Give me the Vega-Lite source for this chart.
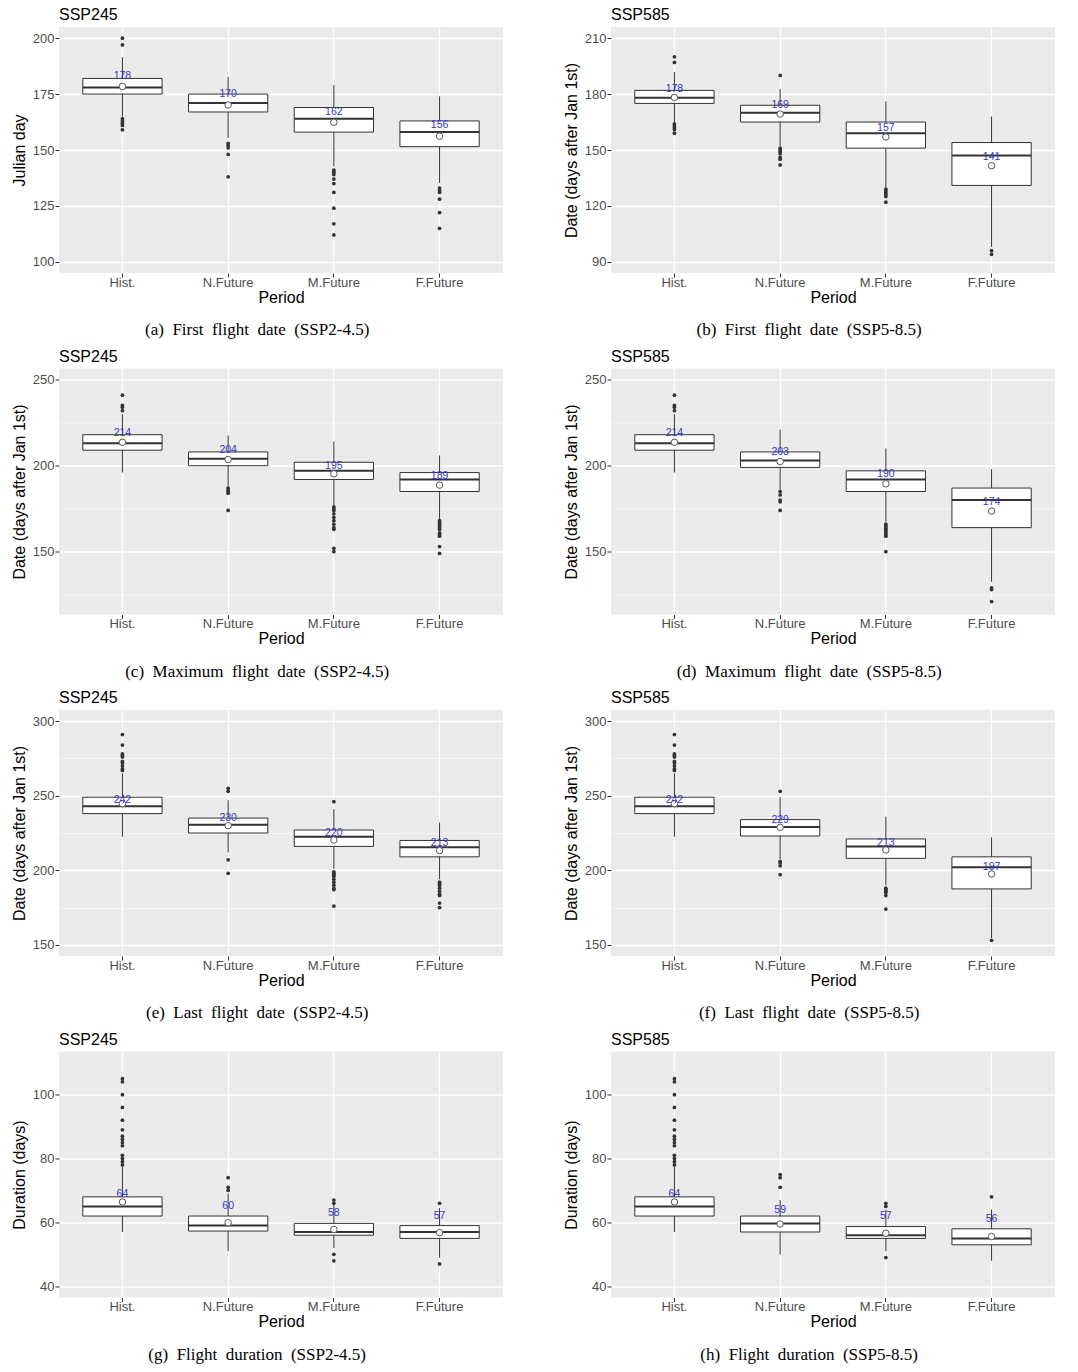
{
"$schema": "https://vega.github.io/schema/vega-lite/v6.json",
"background": "white",
"padding": {"left": 11, "top": 7, "right": 5, "bottom": 5},
"datasets": {
"boxes": [
{"panel":"a","period":"Hist.","lo":165,"q1":175,"med":178,"q3":182,"hi":191.5,"mean":178.4,"label":178},
{"panel":"a","period":"N.Future","lo":155.4,"q1":167,"med":171,"q3":175,"hi":182.7,"mean":170.1,"label":170},
{"panel":"a","period":"M.Future","lo":142.7,"q1":158,"med":164,"q3":169,"hi":179,"mean":162.4,"label":162},
{"panel":"a","period":"F.Future","lo":135.3,"q1":151.5,"med":158,"q3":163,"hi":174,"mean":156.2,"label":156},
{"panel":"b","period":"Hist.","lo":165,"q1":175,"med":178,"q3":182,"hi":191.8,"mean":178.2,"label":178},
{"panel":"b","period":"N.Future","lo":152,"q1":165,"med":170,"q3":174,"hi":182.7,"mean":169.3,"label":169},
{"panel":"b","period":"M.Future","lo":130,"q1":151,"med":159,"q3":165,"hi":176,"mean":157,"label":157},
{"panel":"b","period":"F.Future","lo":98,"q1":131,"med":147,"q3":154,"hi":168,"mean":141.6,"label":141},
{"panel":"c","period":"Hist.","lo":196,"q1":209,"med":213,"q3":218,"hi":230,"mean":213.6,"label":214},
{"panel":"c","period":"N.Future","lo":188,"q1":200,"med":204,"q3":208,"hi":217.5,"mean":203.6,"label":204},
{"panel":"c","period":"M.Future","lo":177,"q1":192,"med":197,"q3":202,"hi":214,"mean":195.3,"label":195},
{"panel":"c","period":"F.Future","lo":169,"q1":185,"med":192,"q3":196,"hi":206,"mean":188.7,"label":189},
{"panel":"d","period":"Hist.","lo":196,"q1":209,"med":213,"q3":218,"hi":230,"mean":213.6,"label":214},
{"panel":"d","period":"N.Future","lo":186,"q1":199,"med":203,"q3":208,"hi":221,"mean":202.4,"label":203},
{"panel":"d","period":"M.Future","lo":167.5,"q1":185,"med":192,"q3":197,"hi":210,"mean":189.5,"label":190},
{"panel":"d","period":"F.Future","lo":132.5,"q1":164,"med":180,"q3":187,"hi":198,"mean":173.6,"label":174},
{"panel":"e","period":"Hist.","lo":222.5,"q1":238,"med":243,"q3":249,"hi":265,"mean":244.7,"label":242},
{"panel":"e","period":"N.Future","lo":212,"q1":225,"med":230.5,"q3":235,"hi":247,"mean":229.9,"label":230},
{"panel":"e","period":"M.Future","lo":201,"q1":216,"med":222.5,"q3":227,"hi":241,"mean":220.3,"label":220},
{"panel":"e","period":"F.Future","lo":194,"q1":209,"med":215.5,"q3":220,"hi":232,"mean":213.2,"label":213},
{"panel":"f","period":"Hist.","lo":222.5,"q1":238,"med":243,"q3":249,"hi":265,"mean":244.7,"label":242},
{"panel":"f","period":"N.Future","lo":207.5,"q1":223,"med":229,"q3":234,"hi":249,"mean":228.8,"label":229},
{"panel":"f","period":"M.Future","lo":190,"q1":208,"med":216,"q3":221,"hi":236,"mean":213.6,"label":213},
{"panel":"f","period":"F.Future","lo":154.5,"q1":187.5,"med":202,"q3":209,"hi":222,"mean":197.5,"label":197},
{"panel":"g","period":"Hist.","lo":57,"q1":62,"med":65,"q3":68,"hi":77.5,"mean":66.4,"label":64},
{"panel":"g","period":"N.Future","lo":51,"q1":57.3,"med":59,"q3":62,"hi":69,"mean":59.9,"label":60},
{"panel":"g","period":"M.Future","lo":52,"q1":56,"med":57,"q3":59.7,"hi":65.5,"mean":57.8,"label":58},
{"panel":"g","period":"F.Future","lo":49,"q1":55,"med":57,"q3":59,"hi":64.5,"mean":56.8,"label":57},
{"panel":"h","period":"Hist.","lo":57,"q1":62,"med":65,"q3":68,"hi":77.5,"mean":66.4,"label":64},
{"panel":"h","period":"N.Future","lo":50,"q1":57,"med":59.7,"q3":62,"hi":67,"mean":59.5,"label":59},
{"panel":"h","period":"M.Future","lo":51,"q1":55,"med":56,"q3":58.7,"hi":64,"mean":56.6,"label":57},
{"panel":"h","period":"F.Future","lo":48,"q1":53,"med":55,"q3":58,"hi":64,"mean":55.6,"label":56}
],
"outliers": [
{"panel":"a","period":"Hist.","value":200},{"panel":"a","period":"Hist.","value":197},{"panel":"a","period":"Hist.","value":164},{"panel":"a","period":"Hist.","value":163},{"panel":"a","period":"Hist.","value":162},{"panel":"a","period":"Hist.","value":161},{"panel":"a","period":"Hist.","value":159},
{"panel":"a","period":"N.Future","value":153},{"panel":"a","period":"N.Future","value":152},{"panel":"a","period":"N.Future","value":151},{"panel":"a","period":"N.Future","value":148},{"panel":"a","period":"N.Future","value":138},
{"panel":"a","period":"M.Future","value":141},{"panel":"a","period":"M.Future","value":140},{"panel":"a","period":"M.Future","value":139},{"panel":"a","period":"M.Future","value":137},{"panel":"a","period":"M.Future","value":135},{"panel":"a","period":"M.Future","value":131},{"panel":"a","period":"M.Future","value":124},{"panel":"a","period":"M.Future","value":117},{"panel":"a","period":"M.Future","value":112},
{"panel":"a","period":"F.Future","value":133},{"panel":"a","period":"F.Future","value":132},{"panel":"a","period":"F.Future","value":131},{"panel":"a","period":"F.Future","value":128},{"panel":"a","period":"F.Future","value":122},{"panel":"a","period":"F.Future","value":115},
{"panel":"b","period":"Hist.","value":200},{"panel":"b","period":"Hist.","value":197},{"panel":"b","period":"Hist.","value":164},{"panel":"b","period":"Hist.","value":163},{"panel":"b","period":"Hist.","value":162},{"panel":"b","period":"Hist.","value":161},{"panel":"b","period":"Hist.","value":159},
{"panel":"b","period":"N.Future","value":190},{"panel":"b","period":"N.Future","value":151},{"panel":"b","period":"N.Future","value":150},{"panel":"b","period":"N.Future","value":149},{"panel":"b","period":"N.Future","value":148},{"panel":"b","period":"N.Future","value":146},{"panel":"b","period":"N.Future","value":145},{"panel":"b","period":"N.Future","value":142},
{"panel":"b","period":"M.Future","value":129},{"panel":"b","period":"M.Future","value":128},{"panel":"b","period":"M.Future","value":127},{"panel":"b","period":"M.Future","value":126},{"panel":"b","period":"M.Future","value":125},{"panel":"b","period":"M.Future","value":122},
{"panel":"b","period":"F.Future","value":96},{"panel":"b","period":"F.Future","value":94},
{"panel":"c","period":"Hist.","value":241},{"panel":"c","period":"Hist.","value":235},{"panel":"c","period":"Hist.","value":234},{"panel":"c","period":"Hist.","value":232},
{"panel":"c","period":"N.Future","value":187},{"panel":"c","period":"N.Future","value":186},{"panel":"c","period":"N.Future","value":185},{"panel":"c","period":"N.Future","value":184},{"panel":"c","period":"N.Future","value":174},
{"panel":"c","period":"M.Future","value":176},{"panel":"c","period":"M.Future","value":175},{"panel":"c","period":"M.Future","value":174},{"panel":"c","period":"M.Future","value":172},{"panel":"c","period":"M.Future","value":170},{"panel":"c","period":"M.Future","value":168},{"panel":"c","period":"M.Future","value":166},{"panel":"c","period":"M.Future","value":164},{"panel":"c","period":"M.Future","value":163},{"panel":"c","period":"M.Future","value":152},{"panel":"c","period":"M.Future","value":150},
{"panel":"c","period":"F.Future","value":168},{"panel":"c","period":"F.Future","value":167},{"panel":"c","period":"F.Future","value":166},{"panel":"c","period":"F.Future","value":165},{"panel":"c","period":"F.Future","value":164},{"panel":"c","period":"F.Future","value":163},{"panel":"c","period":"F.Future","value":161},{"panel":"c","period":"F.Future","value":160},{"panel":"c","period":"F.Future","value":159},{"panel":"c","period":"F.Future","value":153},{"panel":"c","period":"F.Future","value":149},
{"panel":"d","period":"Hist.","value":241},{"panel":"d","period":"Hist.","value":235},{"panel":"d","period":"Hist.","value":234},{"panel":"d","period":"Hist.","value":232},
{"panel":"d","period":"N.Future","value":185},{"panel":"d","period":"N.Future","value":183},{"panel":"d","period":"N.Future","value":180},{"panel":"d","period":"N.Future","value":179},{"panel":"d","period":"N.Future","value":174},
{"panel":"d","period":"M.Future","value":166},{"panel":"d","period":"M.Future","value":165},{"panel":"d","period":"M.Future","value":164},{"panel":"d","period":"M.Future","value":163},{"panel":"d","period":"M.Future","value":162},{"panel":"d","period":"M.Future","value":161},{"panel":"d","period":"M.Future","value":160},{"panel":"d","period":"M.Future","value":159},{"panel":"d","period":"M.Future","value":150},
{"panel":"d","period":"F.Future","value":129},{"panel":"d","period":"F.Future","value":128},{"panel":"d","period":"F.Future","value":121},
{"panel":"e","period":"Hist.","value":291},{"panel":"e","period":"Hist.","value":284},{"panel":"e","period":"Hist.","value":278},{"panel":"e","period":"Hist.","value":277},{"panel":"e","period":"Hist.","value":276},{"panel":"e","period":"Hist.","value":273},{"panel":"e","period":"Hist.","value":272},{"panel":"e","period":"Hist.","value":270},{"panel":"e","period":"Hist.","value":268},{"panel":"e","period":"Hist.","value":267},
{"panel":"e","period":"N.Future","value":255},{"panel":"e","period":"N.Future","value":253},{"panel":"e","period":"N.Future","value":207},{"panel":"e","period":"N.Future","value":198},
{"panel":"e","period":"M.Future","value":246},{"panel":"e","period":"M.Future","value":199},{"panel":"e","period":"M.Future","value":198},{"panel":"e","period":"M.Future","value":197},{"panel":"e","period":"M.Future","value":196},{"panel":"e","period":"M.Future","value":194},{"panel":"e","period":"M.Future","value":192},{"panel":"e","period":"M.Future","value":190},{"panel":"e","period":"M.Future","value":188},{"panel":"e","period":"M.Future","value":187},{"panel":"e","period":"M.Future","value":176},
{"panel":"e","period":"F.Future","value":192},{"panel":"e","period":"F.Future","value":191},{"panel":"e","period":"F.Future","value":190},{"panel":"e","period":"F.Future","value":188},{"panel":"e","period":"F.Future","value":186},{"panel":"e","period":"F.Future","value":184},{"panel":"e","period":"F.Future","value":183},{"panel":"e","period":"F.Future","value":178},{"panel":"e","period":"F.Future","value":175},
{"panel":"f","period":"Hist.","value":291},{"panel":"f","period":"Hist.","value":284},{"panel":"f","period":"Hist.","value":278},{"panel":"f","period":"Hist.","value":277},{"panel":"f","period":"Hist.","value":276},{"panel":"f","period":"Hist.","value":273},{"panel":"f","period":"Hist.","value":272},{"panel":"f","period":"Hist.","value":270},{"panel":"f","period":"Hist.","value":268},{"panel":"f","period":"Hist.","value":267},
{"panel":"f","period":"N.Future","value":253},{"panel":"f","period":"N.Future","value":206},{"panel":"f","period":"N.Future","value":205},{"panel":"f","period":"N.Future","value":203},{"panel":"f","period":"N.Future","value":197},
{"panel":"f","period":"M.Future","value":188},{"panel":"f","period":"M.Future","value":187},{"panel":"f","period":"M.Future","value":186},{"panel":"f","period":"M.Future","value":185},{"panel":"f","period":"M.Future","value":183},{"panel":"f","period":"M.Future","value":174},
{"panel":"f","period":"F.Future","value":153},
{"panel":"g","period":"Hist.","value":105},{"panel":"g","period":"Hist.","value":104},{"panel":"g","period":"Hist.","value":100},{"panel":"g","period":"Hist.","value":96},{"panel":"g","period":"Hist.","value":92},{"panel":"g","period":"Hist.","value":89},{"panel":"g","period":"Hist.","value":87},{"panel":"g","period":"Hist.","value":86},{"panel":"g","period":"Hist.","value":85},{"panel":"g","period":"Hist.","value":84},{"panel":"g","period":"Hist.","value":81},{"panel":"g","period":"Hist.","value":80},{"panel":"g","period":"Hist.","value":79},{"panel":"g","period":"Hist.","value":78},
{"panel":"g","period":"N.Future","value":74},{"panel":"g","period":"N.Future","value":71},{"panel":"g","period":"N.Future","value":70},
{"panel":"g","period":"M.Future","value":67},{"panel":"g","period":"M.Future","value":66},{"panel":"g","period":"M.Future","value":50},{"panel":"g","period":"M.Future","value":48},
{"panel":"g","period":"F.Future","value":66},{"panel":"g","period":"F.Future","value":47},
{"panel":"h","period":"Hist.","value":105},{"panel":"h","period":"Hist.","value":104},{"panel":"h","period":"Hist.","value":100},{"panel":"h","period":"Hist.","value":96},{"panel":"h","period":"Hist.","value":92},{"panel":"h","period":"Hist.","value":89},{"panel":"h","period":"Hist.","value":87},{"panel":"h","period":"Hist.","value":86},{"panel":"h","period":"Hist.","value":85},{"panel":"h","period":"Hist.","value":84},{"panel":"h","period":"Hist.","value":81},{"panel":"h","period":"Hist.","value":80},{"panel":"h","period":"Hist.","value":79},{"panel":"h","period":"Hist.","value":78},
{"panel":"h","period":"N.Future","value":75},{"panel":"h","period":"N.Future","value":74},{"panel":"h","period":"N.Future","value":71},
{"panel":"h","period":"M.Future","value":66},{"panel":"h","period":"M.Future","value":65},{"panel":"h","period":"M.Future","value":49},
{"panel":"h","period":"F.Future","value":68}
]
},
"config": {
"view": {"fill": "#EBEBEB", "stroke": null},
"font": "Liberation Sans",
"axis": {"domain": false, "gridColor": "white", "tickColor": "#333333", "tickSize": 4, "labelColor": "#4D4D4D", "labelFontSize": 13, "labelFont": "Liberation Sans", "titleFont": "Liberation Sans", "titleFontSize": 16, "titleFontWeight": "normal", "titleColor": "black", "labelPadding": 1},
"axisX": {"labelAngle": 0, "grid": true, "gridWidth": 1.3, "titlePadding": 0, "labelPadding": -1},
"axisY": {"titlePadding": 5},
"title": {"anchor": "start", "frame": "group", "fontSize": 16, "fontWeight": "normal", "font": "Liberation Sans", "color": "black", "offset": 4, "baseline": "alphabetic"}
},
"columns": 2,
"spacing": {"row": 10.5, "column": 60},
"concat": [
{"title": {"text": "(a)\u00a0\u00a0First\u00a0\u00a0flight\u00a0\u00a0date\u00a0\u00a0(SSP2-4.5)", "orient": "bottom", "anchor": "middle", "frame": "bounds", "font": "Liberation Serif", "fontSize": 17, "baseline": "top", "offset": 17},
 "vconcat": [{
 "width": 444, "height": 246, "title": {"text": "SSP245"},
 "encoding": {"x": {"field": "period", "type": "nominal", "sort": ["Hist.","N.Future","M.Future","F.Future"], "scale": {"paddingInner": 0, "paddingOuter": 0.1}, "axis": {"title": "Period", "bandPosition": 0.5}}},
 "layer": [
  {"data": {"name": "boxes"}, "transform": [{"filter": "datum.panel === 'a'"}], "mark": {"type": "rule", "color": "#333333", "strokeWidth": 1},
   "encoding": {"y": {"field": "lo", "type": "quantitative", "title": "Julian day", "scale": {"domain": [95, 205], "nice": false, "zero": false},
     "axis": {"values": [100,112.5,125,137.5,150,162.5,175,187.5,200], "labelExpr": "datum.value % 25 === 0 ? datum.label : ''", "gridWidth": {"condition": {"test": "datum.value % 25 === 0", "value": 1.3}, "value": 0.5}, "tickOpacity": {"condition": {"test": "datum.value % 25 === 0", "value": 1}, "value": 0}}},
    "y2": {"field": "hi"}}},
  {"data": {"name": "boxes"}, "transform": [{"filter": "datum.panel === 'a'"}], "mark": {"type": "bar", "fill": "white", "stroke": "#333333", "strokeWidth": 1, "width": {"band": 0.75}}, "encoding": {"y": {"field": "q1", "type": "quantitative", "title": "Julian day"}, "y2": {"field": "q3"}}},
  {"data": {"name": "boxes"}, "transform": [{"filter": "datum.panel === 'a'"}], "mark": {"type": "bar", "fillOpacity": 0, "stroke": "#333333", "strokeWidth": 2, "width": {"band": 0.75}}, "encoding": {"y": {"field": "med", "type": "quantitative", "title": "Julian day"}, "y2": {"field": "med"}}},
  {"data": {"name": "outliers"}, "transform": [{"filter": "datum.panel === 'a'"}], "mark": {"type": "circle", "color": "#333333", "size": 14, "opacity": 1}, "encoding": {"y": {"field": "value", "type": "quantitative", "title": "Julian day"}}},
  {"data": {"name": "boxes"}, "transform": [{"filter": "datum.panel === 'a'"}], "mark": {"type": "point", "shape": "circle", "filled": false, "fill": "white", "stroke": "#555555", "strokeWidth": 1, "size": 42, "opacity": 1}, "encoding": {"y": {"field": "mean", "type": "quantitative", "title": "Julian day"}}},
  {"data": {"name": "boxes"}, "transform": [{"filter": "datum.panel === 'a'"}], "mark": {"type": "text", "color": "#3535C8", "fontSize": 10.5, "dy": -11.2, "baseline": "middle"}, "encoding": {"y": {"field": "label", "type": "quantitative", "title": "Julian day"}, "text": {"field": "label"}}}
 ]}]},
{"title": {"text": "(b)\u00a0\u00a0First\u00a0\u00a0flight\u00a0\u00a0date\u00a0\u00a0(SSP5-8.5)", "orient": "bottom", "anchor": "middle", "frame": "bounds", "font": "Liberation Serif", "fontSize": 17, "baseline": "top", "offset": 17},
 "vconcat": [{
 "width": 444, "height": 246, "title": {"text": "SSP585"},
 "encoding": {"x": {"field": "period", "type": "nominal", "sort": ["Hist.","N.Future","M.Future","F.Future"], "scale": {"paddingInner": 0, "paddingOuter": 0.1}, "axis": {"title": "Period", "bandPosition": 0.5}}},
 "layer": [
  {"data": {"name": "boxes"}, "transform": [{"filter": "datum.panel === 'b'"}], "mark": {"type": "rule", "color": "#333333", "strokeWidth": 1},
   "encoding": {"y": {"field": "lo", "type": "quantitative", "title": "Date (days after Jan 1st)", "scale": {"domain": [84, 216], "nice": false, "zero": false},
     "axis": {"values": [90,105,120,135,150,165,180,195,210], "labelExpr": "datum.value % 30 === 0 ? datum.label : ''", "gridWidth": {"condition": {"test": "datum.value % 30 === 0", "value": 1.3}, "value": 0.5}, "tickOpacity": {"condition": {"test": "datum.value % 30 === 0", "value": 1}, "value": 0}}},
    "y2": {"field": "hi"}}},
  {"data": {"name": "boxes"}, "transform": [{"filter": "datum.panel === 'b'"}], "mark": {"type": "bar", "fill": "white", "stroke": "#333333", "strokeWidth": 1, "width": {"band": 0.75}}, "encoding": {"y": {"field": "q1", "type": "quantitative", "title": "Date (days after Jan 1st)"}, "y2": {"field": "q3"}}},
  {"data": {"name": "boxes"}, "transform": [{"filter": "datum.panel === 'b'"}], "mark": {"type": "bar", "fillOpacity": 0, "stroke": "#333333", "strokeWidth": 2, "width": {"band": 0.75}}, "encoding": {"y": {"field": "med", "type": "quantitative", "title": "Date (days after Jan 1st)"}, "y2": {"field": "med"}}},
  {"data": {"name": "outliers"}, "transform": [{"filter": "datum.panel === 'b'"}], "mark": {"type": "circle", "color": "#333333", "size": 14, "opacity": 1}, "encoding": {"y": {"field": "value", "type": "quantitative", "title": "Date (days after Jan 1st)"}}},
  {"data": {"name": "boxes"}, "transform": [{"filter": "datum.panel === 'b'"}], "mark": {"type": "point", "shape": "circle", "filled": false, "fill": "white", "stroke": "#555555", "strokeWidth": 1, "size": 42, "opacity": 1}, "encoding": {"y": {"field": "mean", "type": "quantitative", "title": "Date (days after Jan 1st)"}}},
  {"data": {"name": "boxes"}, "transform": [{"filter": "datum.panel === 'b'"}], "mark": {"type": "text", "color": "#3535C8", "fontSize": 10.5, "dy": -9.3, "baseline": "middle"}, "encoding": {"y": {"field": "label", "type": "quantitative", "title": "Date (days after Jan 1st)"}, "text": {"field": "label"}}}
 ]}]},
{"title": {"text": "(c)\u00a0\u00a0Maximum\u00a0\u00a0flight\u00a0\u00a0date\u00a0\u00a0(SSP2-4.5)", "orient": "bottom", "anchor": "middle", "frame": "bounds", "font": "Liberation Serif", "fontSize": 17, "baseline": "top", "offset": 17},
 "vconcat": [{
 "width": 444, "height": 246, "title": {"text": "SSP245"},
 "encoding": {"x": {"field": "period", "type": "nominal", "sort": ["Hist.","N.Future","M.Future","F.Future"], "scale": {"paddingInner": 0, "paddingOuter": 0.1}, "axis": {"title": "Period", "bandPosition": 0.5}}},
 "layer": [
  {"data": {"name": "boxes"}, "transform": [{"filter": "datum.panel === 'c'"}], "mark": {"type": "rule", "color": "#333333", "strokeWidth": 1},
   "encoding": {"y": {"field": "lo", "type": "quantitative", "title": "Date (days after Jan 1st)", "scale": {"domain": [113.5, 256.5], "nice": false, "zero": false},
     "axis": {"values": [125,150,175,200,225,250], "labelExpr": "datum.value % 50 === 0 ? datum.label : ''", "gridWidth": {"condition": {"test": "datum.value % 50 === 0", "value": 1.3}, "value": 0.5}, "tickOpacity": {"condition": {"test": "datum.value % 50 === 0", "value": 1}, "value": 0}}},
    "y2": {"field": "hi"}}},
  {"data": {"name": "boxes"}, "transform": [{"filter": "datum.panel === 'c'"}], "mark": {"type": "bar", "fill": "white", "stroke": "#333333", "strokeWidth": 1, "width": {"band": 0.75}}, "encoding": {"y": {"field": "q1", "type": "quantitative", "title": "Date (days after Jan 1st)"}, "y2": {"field": "q3"}}},
  {"data": {"name": "boxes"}, "transform": [{"filter": "datum.panel === 'c'"}], "mark": {"type": "bar", "fillOpacity": 0, "stroke": "#333333", "strokeWidth": 2, "width": {"band": 0.75}}, "encoding": {"y": {"field": "med", "type": "quantitative", "title": "Date (days after Jan 1st)"}, "y2": {"field": "med"}}},
  {"data": {"name": "outliers"}, "transform": [{"filter": "datum.panel === 'c'"}], "mark": {"type": "circle", "color": "#333333", "size": 14, "opacity": 1}, "encoding": {"y": {"field": "value", "type": "quantitative", "title": "Date (days after Jan 1st)"}}},
  {"data": {"name": "boxes"}, "transform": [{"filter": "datum.panel === 'c'"}], "mark": {"type": "point", "shape": "circle", "filled": false, "fill": "white", "stroke": "#555555", "strokeWidth": 1, "size": 42, "opacity": 1}, "encoding": {"y": {"field": "mean", "type": "quantitative", "title": "Date (days after Jan 1st)"}}},
  {"data": {"name": "boxes"}, "transform": [{"filter": "datum.panel === 'c'"}], "mark": {"type": "text", "color": "#3535C8", "fontSize": 10.5, "dy": -8.6, "baseline": "middle"}, "encoding": {"y": {"field": "label", "type": "quantitative", "title": "Date (days after Jan 1st)"}, "text": {"field": "label"}}}
 ]}]},
{"title": {"text": "(d)\u00a0\u00a0Maximum\u00a0\u00a0flight\u00a0\u00a0date\u00a0\u00a0(SSP5-8.5)", "orient": "bottom", "anchor": "middle", "frame": "bounds", "font": "Liberation Serif", "fontSize": 17, "baseline": "top", "offset": 17},
 "vconcat": [{
 "width": 444, "height": 246, "title": {"text": "SSP585"},
 "encoding": {"x": {"field": "period", "type": "nominal", "sort": ["Hist.","N.Future","M.Future","F.Future"], "scale": {"paddingInner": 0, "paddingOuter": 0.1}, "axis": {"title": "Period", "bandPosition": 0.5}}},
 "layer": [
  {"data": {"name": "boxes"}, "transform": [{"filter": "datum.panel === 'd'"}], "mark": {"type": "rule", "color": "#333333", "strokeWidth": 1},
   "encoding": {"y": {"field": "lo", "type": "quantitative", "title": "Date (days after Jan 1st)", "scale": {"domain": [113.5, 256.5], "nice": false, "zero": false},
     "axis": {"values": [125,150,175,200,225,250], "labelExpr": "datum.value % 50 === 0 ? datum.label : ''", "gridWidth": {"condition": {"test": "datum.value % 50 === 0", "value": 1.3}, "value": 0.5}, "tickOpacity": {"condition": {"test": "datum.value % 50 === 0", "value": 1}, "value": 0}}},
    "y2": {"field": "hi"}}},
  {"data": {"name": "boxes"}, "transform": [{"filter": "datum.panel === 'd'"}], "mark": {"type": "bar", "fill": "white", "stroke": "#333333", "strokeWidth": 1, "width": {"band": 0.75}}, "encoding": {"y": {"field": "q1", "type": "quantitative", "title": "Date (days after Jan 1st)"}, "y2": {"field": "q3"}}},
  {"data": {"name": "boxes"}, "transform": [{"filter": "datum.panel === 'd'"}], "mark": {"type": "bar", "fillOpacity": 0, "stroke": "#333333", "strokeWidth": 2, "width": {"band": 0.75}}, "encoding": {"y": {"field": "med", "type": "quantitative", "title": "Date (days after Jan 1st)"}, "y2": {"field": "med"}}},
  {"data": {"name": "outliers"}, "transform": [{"filter": "datum.panel === 'd'"}], "mark": {"type": "circle", "color": "#333333", "size": 14, "opacity": 1}, "encoding": {"y": {"field": "value", "type": "quantitative", "title": "Date (days after Jan 1st)"}}},
  {"data": {"name": "boxes"}, "transform": [{"filter": "datum.panel === 'd'"}], "mark": {"type": "point", "shape": "circle", "filled": false, "fill": "white", "stroke": "#555555", "strokeWidth": 1, "size": 42, "opacity": 1}, "encoding": {"y": {"field": "mean", "type": "quantitative", "title": "Date (days after Jan 1st)"}}},
  {"data": {"name": "boxes"}, "transform": [{"filter": "datum.panel === 'd'"}], "mark": {"type": "text", "color": "#3535C8", "fontSize": 10.5, "dy": -8.6, "baseline": "middle"}, "encoding": {"y": {"field": "label", "type": "quantitative", "title": "Date (days after Jan 1st)"}, "text": {"field": "label"}}}
 ]}]},
{"title": {"text": "(e)\u00a0\u00a0Last\u00a0\u00a0flight\u00a0\u00a0date\u00a0\u00a0(SSP2-4.5)", "orient": "bottom", "anchor": "middle", "frame": "bounds", "font": "Liberation Serif", "fontSize": 17, "baseline": "top", "offset": 17},
 "vconcat": [{
 "width": 444, "height": 246, "title": {"text": "SSP245"},
 "encoding": {"x": {"field": "period", "type": "nominal", "sort": ["Hist.","N.Future","M.Future","F.Future"], "scale": {"paddingInner": 0, "paddingOuter": 0.1}, "axis": {"title": "Period", "bandPosition": 0.5}}},
 "layer": [
  {"data": {"name": "boxes"}, "transform": [{"filter": "datum.panel === 'e'"}], "mark": {"type": "rule", "color": "#333333", "strokeWidth": 1},
   "encoding": {"y": {"field": "lo", "type": "quantitative", "title": "Date (days after Jan 1st)", "scale": {"domain": [142.5, 307.5], "nice": false, "zero": false},
     "axis": {"values": [150,175,200,225,250,275,300], "labelExpr": "datum.value % 50 === 0 ? datum.label : ''", "gridWidth": {"condition": {"test": "datum.value % 50 === 0", "value": 1.3}, "value": 0.5}, "tickOpacity": {"condition": {"test": "datum.value % 50 === 0", "value": 1}, "value": 0}}},
    "y2": {"field": "hi"}}},
  {"data": {"name": "boxes"}, "transform": [{"filter": "datum.panel === 'e'"}], "mark": {"type": "bar", "fill": "white", "stroke": "#333333", "strokeWidth": 1, "width": {"band": 0.75}}, "encoding": {"y": {"field": "q1", "type": "quantitative", "title": "Date (days after Jan 1st)"}, "y2": {"field": "q3"}}},
  {"data": {"name": "boxes"}, "transform": [{"filter": "datum.panel === 'e'"}], "mark": {"type": "bar", "fillOpacity": 0, "stroke": "#333333", "strokeWidth": 2, "width": {"band": 0.75}}, "encoding": {"y": {"field": "med", "type": "quantitative", "title": "Date (days after Jan 1st)"}, "y2": {"field": "med"}}},
  {"data": {"name": "outliers"}, "transform": [{"filter": "datum.panel === 'e'"}], "mark": {"type": "circle", "color": "#333333", "size": 14, "opacity": 1}, "encoding": {"y": {"field": "value", "type": "quantitative", "title": "Date (days after Jan 1st)"}}},
  {"data": {"name": "boxes"}, "transform": [{"filter": "datum.panel === 'e'"}], "mark": {"type": "point", "shape": "circle", "filled": false, "fill": "white", "stroke": "#555555", "strokeWidth": 1, "size": 42, "opacity": 1}, "encoding": {"y": {"field": "mean", "type": "quantitative", "title": "Date (days after Jan 1st)"}}},
  {"data": {"name": "boxes"}, "transform": [{"filter": "datum.panel === 'e'"}], "mark": {"type": "text", "color": "#3535C8", "fontSize": 10.5, "dy": -7.5, "baseline": "middle"}, "encoding": {"y": {"field": "label", "type": "quantitative", "title": "Date (days after Jan 1st)"}, "text": {"field": "label"}}}
 ]}]},
{"title": {"text": "(f)\u00a0\u00a0Last\u00a0\u00a0flight\u00a0\u00a0date\u00a0\u00a0(SSP5-8.5)", "orient": "bottom", "anchor": "middle", "frame": "bounds", "font": "Liberation Serif", "fontSize": 17, "baseline": "top", "offset": 17},
 "vconcat": [{
 "width": 444, "height": 246, "title": {"text": "SSP585"},
 "encoding": {"x": {"field": "period", "type": "nominal", "sort": ["Hist.","N.Future","M.Future","F.Future"], "scale": {"paddingInner": 0, "paddingOuter": 0.1}, "axis": {"title": "Period", "bandPosition": 0.5}}},
 "layer": [
  {"data": {"name": "boxes"}, "transform": [{"filter": "datum.panel === 'f'"}], "mark": {"type": "rule", "color": "#333333", "strokeWidth": 1},
   "encoding": {"y": {"field": "lo", "type": "quantitative", "title": "Date (days after Jan 1st)", "scale": {"domain": [142.5, 307.5], "nice": false, "zero": false},
     "axis": {"values": [150,175,200,225,250,275,300], "labelExpr": "datum.value % 50 === 0 ? datum.label : ''", "gridWidth": {"condition": {"test": "datum.value % 50 === 0", "value": 1.3}, "value": 0.5}, "tickOpacity": {"condition": {"test": "datum.value % 50 === 0", "value": 1}, "value": 0}}},
    "y2": {"field": "hi"}}},
  {"data": {"name": "boxes"}, "transform": [{"filter": "datum.panel === 'f'"}], "mark": {"type": "bar", "fill": "white", "stroke": "#333333", "strokeWidth": 1, "width": {"band": 0.75}}, "encoding": {"y": {"field": "q1", "type": "quantitative", "title": "Date (days after Jan 1st)"}, "y2": {"field": "q3"}}},
  {"data": {"name": "boxes"}, "transform": [{"filter": "datum.panel === 'f'"}], "mark": {"type": "bar", "fillOpacity": 0, "stroke": "#333333", "strokeWidth": 2, "width": {"band": 0.75}}, "encoding": {"y": {"field": "med", "type": "quantitative", "title": "Date (days after Jan 1st)"}, "y2": {"field": "med"}}},
  {"data": {"name": "outliers"}, "transform": [{"filter": "datum.panel === 'f'"}], "mark": {"type": "circle", "color": "#333333", "size": 14, "opacity": 1}, "encoding": {"y": {"field": "value", "type": "quantitative", "title": "Date (days after Jan 1st)"}}},
  {"data": {"name": "boxes"}, "transform": [{"filter": "datum.panel === 'f'"}], "mark": {"type": "point", "shape": "circle", "filled": false, "fill": "white", "stroke": "#555555", "strokeWidth": 1, "size": 42, "opacity": 1}, "encoding": {"y": {"field": "mean", "type": "quantitative", "title": "Date (days after Jan 1st)"}}},
  {"data": {"name": "boxes"}, "transform": [{"filter": "datum.panel === 'f'"}], "mark": {"type": "text", "color": "#3535C8", "fontSize": 10.5, "dy": -7.5, "baseline": "middle"}, "encoding": {"y": {"field": "label", "type": "quantitative", "title": "Date (days after Jan 1st)"}, "text": {"field": "label"}}}
 ]}]},
{"title": {"text": "(g)\u00a0\u00a0Flight\u00a0\u00a0duration\u00a0\u00a0(SSP2-4.5)", "orient": "bottom", "anchor": "middle", "frame": "bounds", "font": "Liberation Serif", "fontSize": 17, "baseline": "top", "offset": 17},
 "vconcat": [{
 "width": 444, "height": 246, "title": {"text": "SSP245"},
 "encoding": {"x": {"field": "period", "type": "nominal", "sort": ["Hist.","N.Future","M.Future","F.Future"], "scale": {"paddingInner": 0, "paddingOuter": 0.1}, "axis": {"title": "Period", "bandPosition": 0.5}}},
 "layer": [
  {"data": {"name": "boxes"}, "transform": [{"filter": "datum.panel === 'g'"}], "mark": {"type": "rule", "color": "#333333", "strokeWidth": 1},
   "encoding": {"y": {"field": "lo", "type": "quantitative", "title": "Duration (days)", "scale": {"domain": [36.5, 113.5], "nice": false, "zero": false},
     "axis": {"values": [40,50,60,70,80,90,100,110], "labelExpr": "datum.value % 20 === 0 ? datum.label : ''", "gridWidth": {"condition": {"test": "datum.value % 20 === 0", "value": 1.3}, "value": 0.5}, "tickOpacity": {"condition": {"test": "datum.value % 20 === 0", "value": 1}, "value": 0}}},
    "y2": {"field": "hi"}}},
  {"data": {"name": "boxes"}, "transform": [{"filter": "datum.panel === 'g'"}], "mark": {"type": "bar", "fill": "white", "stroke": "#333333", "strokeWidth": 1, "width": {"band": 0.75}}, "encoding": {"y": {"field": "q1", "type": "quantitative", "title": "Duration (days)"}, "y2": {"field": "q3"}}},
  {"data": {"name": "boxes"}, "transform": [{"filter": "datum.panel === 'g'"}], "mark": {"type": "bar", "fillOpacity": 0, "stroke": "#333333", "strokeWidth": 2, "width": {"band": 0.75}}, "encoding": {"y": {"field": "med", "type": "quantitative", "title": "Duration (days)"}, "y2": {"field": "med"}}},
  {"data": {"name": "outliers"}, "transform": [{"filter": "datum.panel === 'g'"}], "mark": {"type": "circle", "color": "#333333", "size": 14, "opacity": 1}, "encoding": {"y": {"field": "value", "type": "quantitative", "title": "Duration (days)"}}},
  {"data": {"name": "boxes"}, "transform": [{"filter": "datum.panel === 'g'"}], "mark": {"type": "point", "shape": "circle", "filled": false, "fill": "white", "stroke": "#555555", "strokeWidth": 1, "size": 42, "opacity": 1}, "encoding": {"y": {"field": "mean", "type": "quantitative", "title": "Duration (days)"}}},
  {"data": {"name": "boxes"}, "transform": [{"filter": "datum.panel === 'g'"}], "mark": {"type": "text", "color": "#3535C8", "fontSize": 10.5, "dy": -16, "baseline": "middle"}, "encoding": {"y": {"field": "label", "type": "quantitative", "title": "Duration (days)"}, "text": {"field": "label"}}}
 ]}]},
{"title": {"text": "(h)\u00a0\u00a0Flight\u00a0\u00a0duration\u00a0\u00a0(SSP5-8.5)", "orient": "bottom", "anchor": "middle", "frame": "bounds", "font": "Liberation Serif", "fontSize": 17, "baseline": "top", "offset": 17},
 "vconcat": [{
 "width": 444, "height": 246, "title": {"text": "SSP585"},
 "encoding": {"x": {"field": "period", "type": "nominal", "sort": ["Hist.","N.Future","M.Future","F.Future"], "scale": {"paddingInner": 0, "paddingOuter": 0.1}, "axis": {"title": "Period", "bandPosition": 0.5}}},
 "layer": [
  {"data": {"name": "boxes"}, "transform": [{"filter": "datum.panel === 'h'"}], "mark": {"type": "rule", "color": "#333333", "strokeWidth": 1},
   "encoding": {"y": {"field": "lo", "type": "quantitative", "title": "Duration (days)", "scale": {"domain": [36.5, 113.5], "nice": false, "zero": false},
     "axis": {"values": [40,50,60,70,80,90,100,110], "labelExpr": "datum.value % 20 === 0 ? datum.label : ''", "gridWidth": {"condition": {"test": "datum.value % 20 === 0", "value": 1.3}, "value": 0.5}, "tickOpacity": {"condition": {"test": "datum.value % 20 === 0", "value": 1}, "value": 0}}},
    "y2": {"field": "hi"}}},
  {"data": {"name": "boxes"}, "transform": [{"filter": "datum.panel === 'h'"}], "mark": {"type": "bar", "fill": "white", "stroke": "#333333", "strokeWidth": 1, "width": {"band": 0.75}}, "encoding": {"y": {"field": "q1", "type": "quantitative", "title": "Duration (days)"}, "y2": {"field": "q3"}}},
  {"data": {"name": "boxes"}, "transform": [{"filter": "datum.panel === 'h'"}], "mark": {"type": "bar", "fillOpacity": 0, "stroke": "#333333", "strokeWidth": 2, "width": {"band": 0.75}}, "encoding": {"y": {"field": "med", "type": "quantitative", "title": "Duration (days)"}, "y2": {"field": "med"}}},
  {"data": {"name": "outliers"}, "transform": [{"filter": "datum.panel === 'h'"}], "mark": {"type": "circle", "color": "#333333", "size": 14, "opacity": 1}, "encoding": {"y": {"field": "value", "type": "quantitative", "title": "Duration (days)"}}},
  {"data": {"name": "boxes"}, "transform": [{"filter": "datum.panel === 'h'"}], "mark": {"type": "point", "shape": "circle", "filled": false, "fill": "white", "stroke": "#555555", "strokeWidth": 1, "size": 42, "opacity": 1}, "encoding": {"y": {"field": "mean", "type": "quantitative", "title": "Duration (days)"}}},
  {"data": {"name": "boxes"}, "transform": [{"filter": "datum.panel === 'h'"}], "mark": {"type": "text", "color": "#3535C8", "fontSize": 10.5, "dy": -16, "baseline": "middle"}, "encoding": {"y": {"field": "label", "type": "quantitative", "title": "Duration (days)"}, "text": {"field": "label"}}}
 ]}]}
]
}
